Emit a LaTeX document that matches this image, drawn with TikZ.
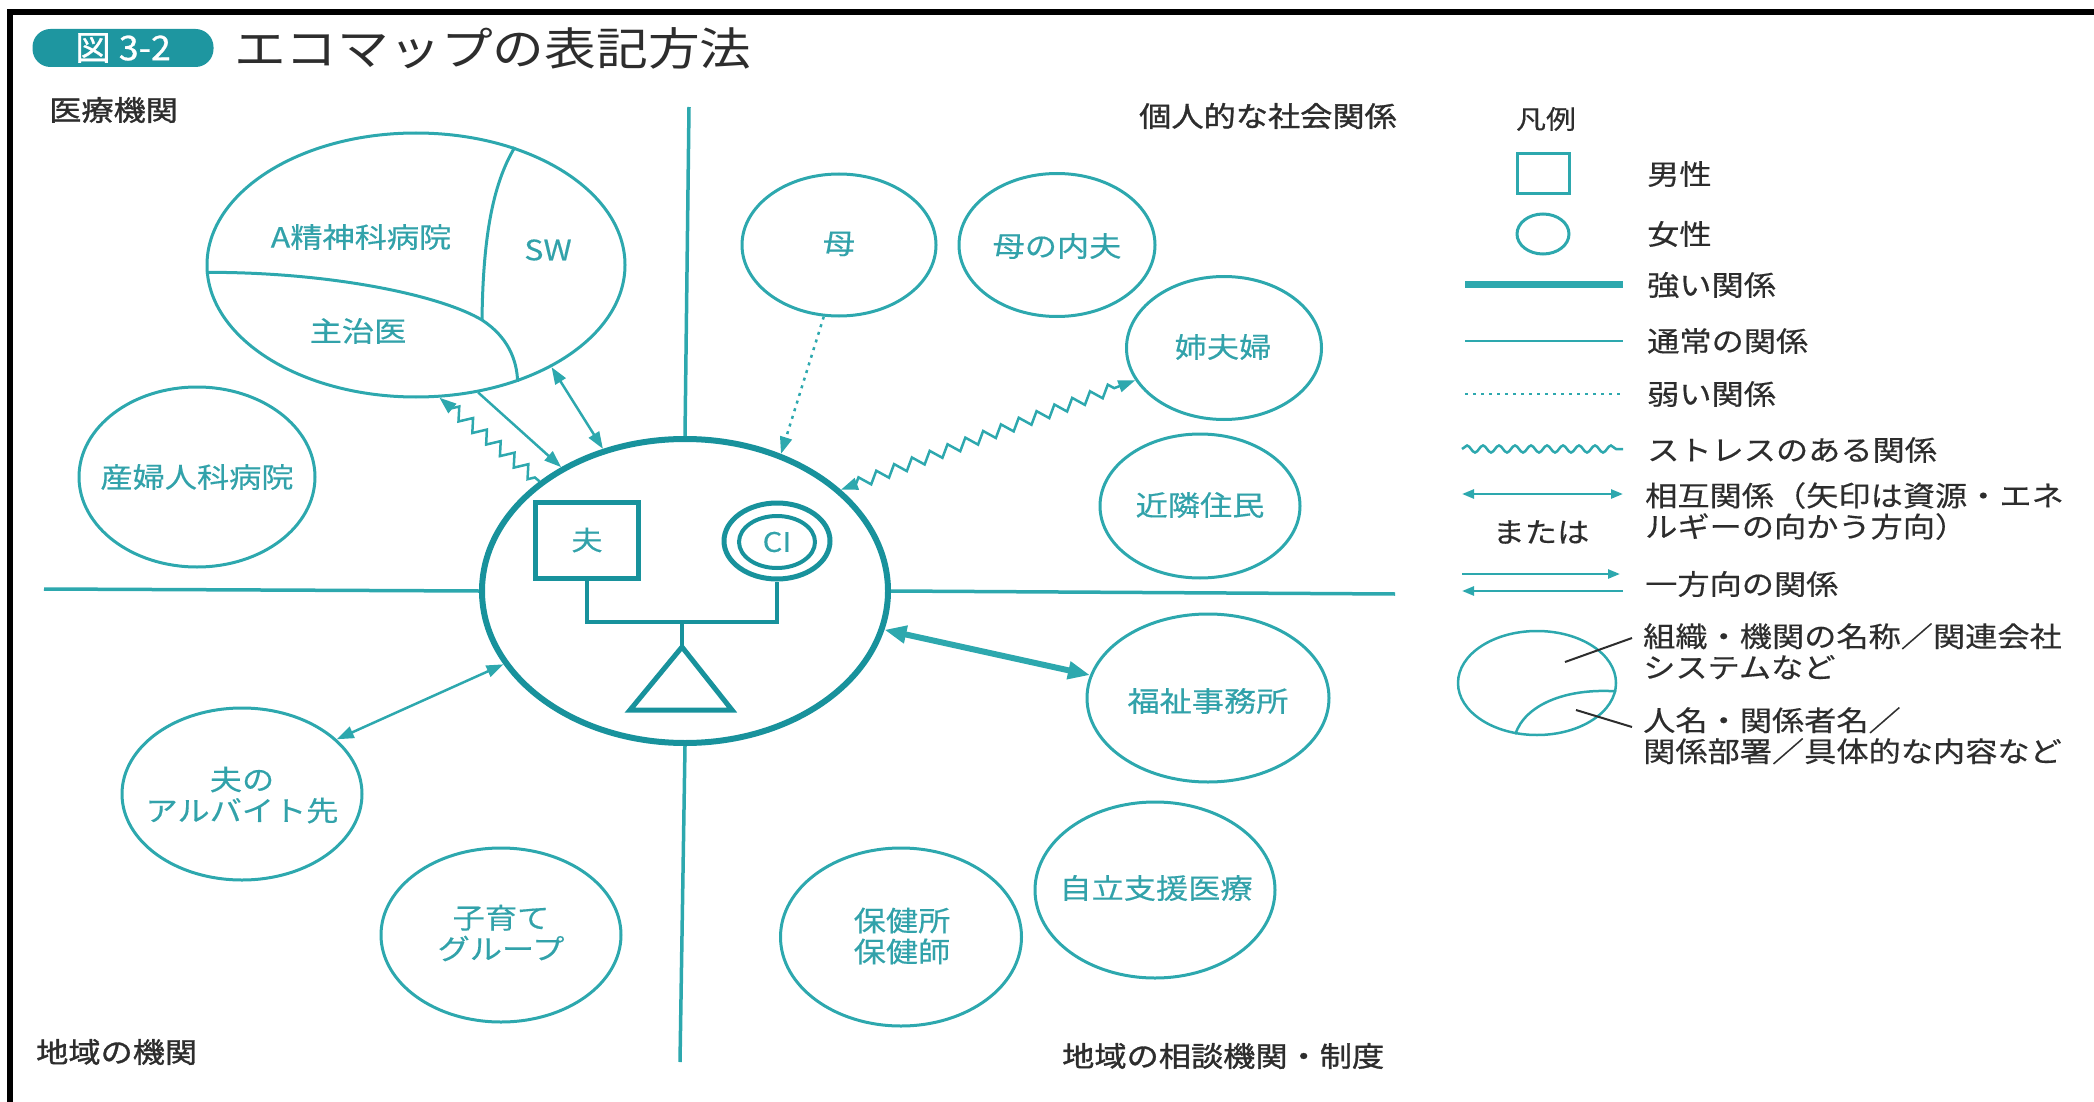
\documentclass[tikz,border=0pt]{standalone}
\usepackage{fontspec}
\setmainfont{Noto Sans CJK JP}[FakeStretch=1.15,FakeBold=0.4]
\newfontfamily\jpbold{Noto Sans CJK JP}[FakeStretch=1.15,FakeBold=1.2]
\newfontfamily\jpbadge{Noto Sans CJK JP}[FakeStretch=1.05,FakeBold=0.8]
\newfontfamily\jptitle{Noto Sans CJK JP}[FakeStretch=1.15]
\usetikzlibrary{arrows.meta,decorations.pathmorphing,shapes.geometric,calc}
\definecolor{tl}{RGB}{45,168,174}
\definecolor{tld}{RGB}{24,146,156}
\definecolor{tlt}{RGB}{50,162,170}
\definecolor{badge}{RGB}{30,150,160}
\definecolor{dk}{RGB}{45,45,45}
\tikzset{
  sat/.style={draw=tl, line width=3pt, ellipse, inner sep=0pt},
  lbl/.style={text=tlt, font=\fontsize{28}{31}\selectfont, align=center, inner sep=0pt},
  sec/.style={text=dk, font=\jpbold\fontsize{28}{31}\selectfont, inner sep=0pt, anchor=west},
  leg/.style={text=dk, font=\fontsize{28}{31}\selectfont, anchor=west, inner sep=0pt, align=left},
  axisline/.style={draw=tl, line width=3.5pt},
  conn/.style={draw=tl, line width=2.5pt},
  core/.style={draw=tld, line width=5pt, inner sep=0pt},
  zz/.style={decorate, decoration={zigzag, segment length=18pt, amplitude=6pt, pre length=6pt, post length=16pt}},
  zzb/.style={decorate, decoration={zigzag, segment length=19pt, amplitude=5.5pt, pre length=16pt, post length=16pt}},
  >={Triangle[length=17pt,width=12pt]}
}
\begin{document}
\begin{tikzpicture}[x=1pt,y=-1pt]
\useasboundingbox (0,0) rectangle (2094,1102);
% frame
\coordinate (bBL) at (10,1102);
\coordinate (bTL) at (10,12);
\coordinate (bTR) at (2094,12);
\draw[black, line width=6pt] (bBL) -- (bTL) -- (bTR);

% title
\node[fill=badge, rounded corners=18pt, minimum width=181pt, minimum height=38pt, inner sep=0pt,
      text=white, font=\jpbadge\fontsize{34}{36}\selectfont] (badge) at (123,48) {図 3-2};
\node[anchor=west, text=dk, font=\jptitle\fontsize{45}{50}\selectfont, inner sep=0pt] (title) at (234,48) {エコマップの表記方法};

% section labels
\node[sec] (s1) at (49,110) {医療機関};
\node[sec] (s2) at (1139,116) {個人的な社会関係};
\node[sec] (s3) at (36,1052) {地域の機関};
\node[sec] (s4) at (1062,1056) {地域の相談機関・制度};

% central ellipse
\node[draw=tld, line width=6pt, ellipse, minimum width=406pt, minimum height=304pt, inner sep=0pt] (cl) at (685,591) {};

% axes
\coordinate (axT) at (689,107);
\coordinate (axB) at (680,1062);
\coordinate (axL) at (44,589);
\coordinate (axR) at (1395,594);
\draw[axisline] (axT) -- (cl.north);
\draw[axisline] (cl.south) -- (axB);
\draw[axisline] (axL) -- (cl.west);
\draw[axisline] (cl.east) -- (axR);

% genogram inside
\node[core, minimum width=103pt, minimum height=76pt] (otto) at (587,540) {};
\node[text=tlt, font=\fontsize{27}{30}\selectfont, inner sep=0pt] (totto) at (587,540) {夫};
\node[core, ellipse, minimum width=106pt, minimum height=76pt] (clo) at (777,541) {};
\node[core, line width=4pt, ellipse, minimum width=76pt, minimum height=52pt] (cli) at (777,542) {};
\node[text=tlt, font=\fontsize{27}{30}\selectfont, inner sep=0pt] (tcl) at (777,542) {CI};
\coordinate (gj) at (682,622);
\draw[tld, line width=4pt] (otto.south) |- (clo.south |- gj) -- (clo.south);
\coordinate (triA) at (682,647);
\coordinate (triL) at (630,710);
\coordinate (triR) at (732,710);
\draw[tld, line width=4pt] (gj) -- (triA);
\draw[tld, line width=5pt, line join=miter] (triA) -- (triR) -- (triL) -- cycle;

% medical institution
\node[sat, minimum width=418pt, minimum height=264pt] (med) at (416,265) {};
\coordinate (mj) at (482,320);
\draw[tl, line width=3pt] (med.50) .. controls (492,185) and (483,240) .. (mj);
\draw[tl, line width=3pt] (med.182) .. controls (330,272) and (440,295) .. (mj)
      .. controls (508,337) and (517,360) .. (med.-49);
\node[lbl] (tA) at (361,237) {A精神科病院};
\node[lbl] (tSW) at (548,250) {SW};
\node[lbl] (tSJ) at (358,331) {主治医};

% satellites
\node[sat, minimum width=236pt, minimum height=180pt] (obgyn) at (197,477) {};
\node[lbl] (tobgyn) at (197,477) {産婦人科病院};
\node[sat, minimum width=240pt, minimum height=172pt] (arb) at (242,794) {};
\node[lbl] (tarb) at (242,795) {夫の\\アルバイト先};
\node[sat, minimum width=240pt, minimum height=174pt] (kos) at (501,935) {};
\node[lbl] (tkos) at (501,933) {子育て\\グループ};
\node[sat, minimum width=241pt, minimum height=178pt] (hok) at (901,937) {};
\node[lbl] (thok) at (902,936) {保健所\\保健師};
\node[sat, minimum width=240pt, minimum height=176pt] (jir) at (1155,890) {};
\node[lbl] (tjir) at (1156,888) {自立支援医療};
\node[sat, minimum width=242pt, minimum height=168pt] (fuk) at (1208,698) {};
\node[lbl] (tfuk) at (1208,701) {福祉事務所};
\node[sat, minimum width=200pt, minimum height=144pt] (kin) at (1200,506) {};
\node[lbl] (tkin) at (1200,505) {近隣住民};
\node[sat, minimum width=195pt, minimum height=143pt] (ane) at (1224,348) {};
\node[lbl] (tane) at (1223,347) {姉夫婦};
\node[sat, minimum width=194pt, minimum height=142pt] (haha) at (839,245) {};
\node[lbl] (thaha) at (839,244) {母};
\node[sat, minimum width=196pt, minimum height=143pt] (uchi) at (1057,245) {};
\node[lbl] (tuchi) at (1057,246) {母の内夫};

% connectors
\draw[conn, ->, zz] (cl.143) -- (med.-80);
\draw[conn, ->] (med.-64) -- (cl.135);
\draw[conn, <->] (med.-37) -- (cl.120);
\draw[conn, ->, dash pattern=on 3pt off 5pt] (haha.-102) -- (cl.55);
\draw[conn, <->, zzb] (cl.33) -- (ane.200);
\draw[tl, line width=6pt, <->, >={Triangle[length=22pt,width=17pt]}] (cl.-11) -- (fuk.169);
\draw[conn, <->] (cl.202) -- (arb.30);

% legend
\node[text=dk, font=\fontsize{26}{30}\selectfont, inner sep=0pt] (lgt) at (1546,119) {凡例};
\node[draw=tl, line width=3pt, minimum width=52pt, minimum height=40pt, inner sep=0pt] (lsq) at (1543,174) {};
\node[leg] (lt1) at (1647,174) {男性};
\node[draw=tl, line width=3pt, ellipse, minimum width=52pt, minimum height=40pt, inner sep=0pt] (lci) at (1543,234) {};
\node[leg] (lt2) at (1647,234) {女性};

\coordinate (la1) at (1465,284); \coordinate (lb1) at (1623,284);
\draw[tl, line width=7pt] (la1) -- (lb1);
\node[leg] (lt3) at (1647,285) {強い関係};

\coordinate (la2) at (1465,341); \coordinate (lb2) at (1623,341);
\draw[tl, line width=2.5pt] (la2) -- (lb2);
\node[leg] (lt4) at (1647,341) {通常の関係};

\coordinate (la3) at (1465,394); \coordinate (lb3) at (1623,394);
\draw[tl, line width=2.5pt, dash pattern=on 3pt off 5pt] (la3) -- (lb3);
\node[leg] (lt5) at (1647,394) {弱い関係};

\coordinate (la4) at (1462,449); \coordinate (lb4) at (1623,449);
\draw[tl, line width=2.5pt, decorate, decoration={snake, segment length=16pt, amplitude=3.5pt}] (la4) -- (lb4);
\node[leg] (lt6) at (1647,450) {ストレスのある関係};

\coordinate (la5) at (1462,494); \coordinate (lb5) at (1623,494);
\draw[tl, line width=2.5pt, <->, >={Triangle[length=12pt,width=9pt]}] (la5) -- (lb5);
\node[leg, anchor=north west] (lt7) at (1645,482) {相互関係（矢印は資源・エネ\\ルギーの向かう方向）};
\node[text=dk, font=\fontsize{28}{31}\selectfont, inner sep=0pt] (lmt) at (1541,532) {または};

\coordinate (la6) at (1462,574); \coordinate (lb6) at (1620,574);
\draw[tl, line width=2.5pt, ->, >={Triangle[length=12pt,width=9pt]}] (la6) -- (lb6);
\coordinate (la7) at (1623,591); \coordinate (lb7) at (1462,591);
\draw[tl, line width=2.5pt, ->, >={Triangle[length=12pt,width=9pt]}] (la7) -- (lb7);
\node[leg] (lt8) at (1645,584) {一方向の関係};

\node[draw=tl, line width=2.5pt, ellipse, minimum width=158pt, minimum height=104pt, inner sep=0pt] (lel) at (1537,683) {};
\draw[tl, line width=2.5pt] (lel.-113) .. controls (1525,705) and (1565,688) .. (lel.-6);
\coordinate (ld1a) at (1565,662); \coordinate (ld1b) at (1632,638);
\draw[dk, line width=2pt] (ld1a) -- (ld1b);
\coordinate (ld2a) at (1576,710); \coordinate (ld2b) at (1632,727);
\draw[dk, line width=2pt] (ld2a) -- (ld2b);
\node[leg, anchor=north west] (lt9) at (1643,623) {組織・機関の名称／関連会社\\システムなど};
\node[leg, anchor=north west] (lt10) at (1643,707) {人名・関係者名／\\関係部署／具体的な内容など};
\end{tikzpicture}
\end{document}
